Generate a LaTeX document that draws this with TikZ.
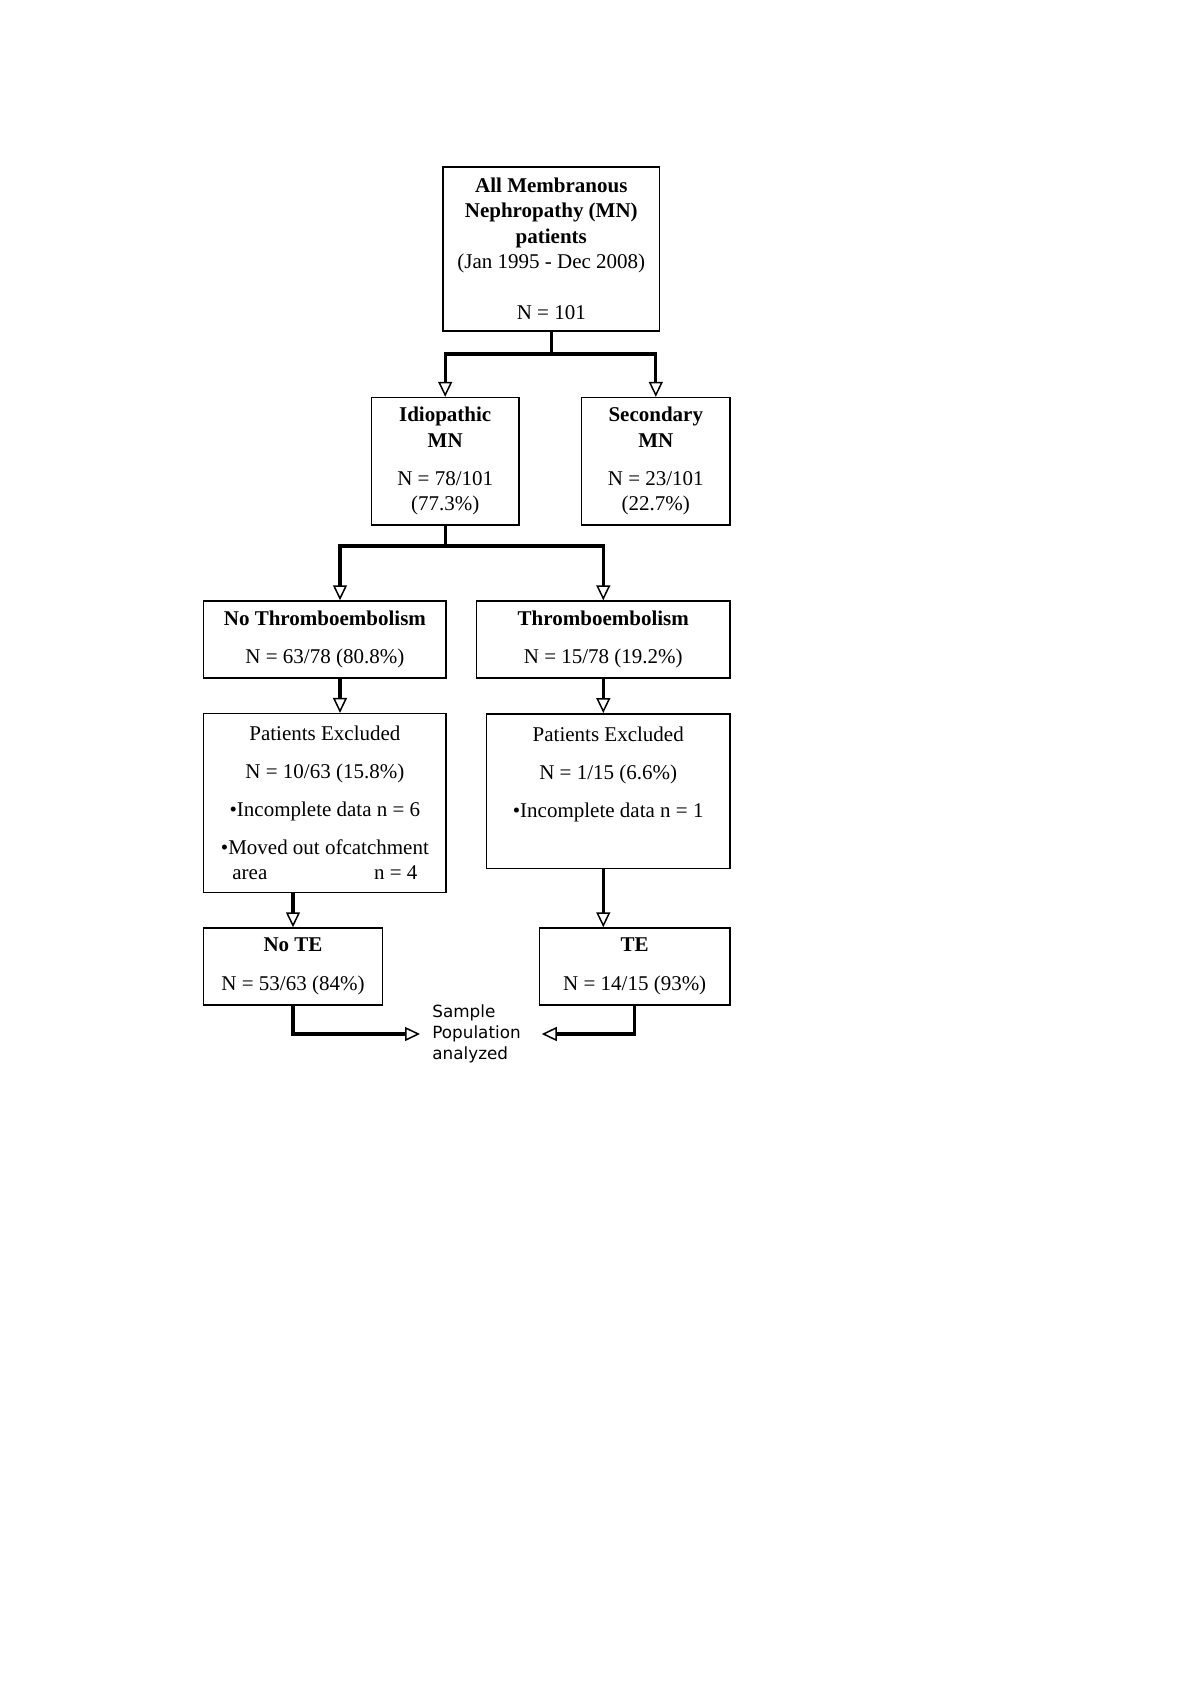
\documentclass[tikz,border=0pt]{standalone}
\usepackage{fontspec}
\setmainfont{Liberation Serif}
\newfontfamily\labelfont{DejaVu Sans}
\usetikzlibrary{arrows.meta}

\tikzset{
  box/.style={draw, line width=0.75pt, align=center, inner sep=0pt,
    font=\fontsize{10.5}{12.75}\selectfont},
  link/.style={line width=1.6pt},
  arr/.style={link, -{Triangle[open, length=7.5pt, width=7pt, line width=0.75pt]}}
}

\begin{document}
\begin{tikzpicture}[x=0.5pt, y=-0.5pt]
  \useasboundingbox (0,0) rectangle (1200,1698);

  \node[box, minimum width=108.3pt, minimum height=82pt] (all) at (551.3,249)
    {\textbf{All Membranous}\\ \textbf{Nephropathy (MN)}\\ \textbf{patients}\\
     (Jan 1995 - Dec 2008)\\[12.75pt] N = 101};

  \node[box, minimum width=73.65pt, minimum height=63.75pt] (idio) at (445.2,461.3)
    {\textbf{Idiopathic}\\ \textbf{MN}\\[6.25pt] N = 78/101\\ (77.3\%)};
  \node[box, minimum width=74.2pt, minimum height=63.75pt] (sec) at (655.8,461.3)
    {\textbf{Secondary}\\ \textbf{MN}\\[6.25pt] N = 23/101\\ (22.7\%)};

  \node[box, minimum width=121.3pt, minimum height=38.5pt] (nothrombo) at (324.9,639.5)
    {\textbf{No Thromboembolism}\\[6.25pt] N = 63/78 (80.8\%)};
  \node[box, minimum width=126.75pt, minimum height=38.5pt] (thrombo) at (603.3,639.5)
    {\textbf{Thromboembolism}\\[6.25pt] N = 15/78 (19.2\%)};

  \node[box, minimum width=121.3pt, minimum height=89.35pt] (excl1) at (324.9,803)
    {Patients Excluded\\[6.25pt] N = 10/63 (15.8\%)\\[6.25pt]
     \textbullet Incomplete data n = 6\\[6.25pt] \textbullet Moved out ofcatchment\\
     \makebox[92.5pt]{area\hfill n = 4}};
  \node[box, minimum width=121.85pt, minimum height=77.45pt] (excl2) at (608.2,791.2)
    {Patients Excluded\\[6.25pt] N = 1/15 (6.6\%)\\[6.25pt]
     \textbullet Incomplete data n = 1\\[2.25pt] \strut};

  \node[box, minimum width=89.35pt, minimum height=38.5pt] (note) at (293,966.5)
    {\textbf{No TE}\\[6.5pt] N = 53/63 (84\%)};
  \node[box, minimum width=95.3pt, minimum height=38.5pt] (te) at (634.7,966.5)
    {\textbf{TE}\\[6.5pt] N = 14/15 (93\%)};

  \node[anchor=west, inner xsep=6pt, inner ysep=0pt, text width=48.5pt, align=left,
    font=\labelfont\fontsize{8.4}{10.5}\selectfont] (sample) at (420,1034)
    {Sample\\ Population\\ analyzed};

  \coordinate (j1) at (551.3,354);
  \coordinate (j2) at (445.2,546);
  \coordinate (k1) at (340,546);

  \draw[link] (all) -- (j1);
  \draw[arr] (j1) -| (idio);
  \draw[arr] (j1) -| (sec);

  \draw[link] (idio) -- (j2);
  \draw[arr] (j2) -- (k1) -- (k1 |- nothrombo.north);
  \draw[arr] (j2) -| (thrombo);

  \draw[arr] (nothrombo.south -| k1) -- (excl1.north -| k1);
  \draw[arr] (thrombo) -- (excl2.north -| thrombo);

  \draw[arr] (excl1.south -| note) -- (note);
  \draw[arr] (excl2.south -| thrombo) -- (te.north -| thrombo);

  \draw[arr] (note) |- (sample.west);
  \draw[arr] (te) |- (sample.east);
\end{tikzpicture}
\end{document}
